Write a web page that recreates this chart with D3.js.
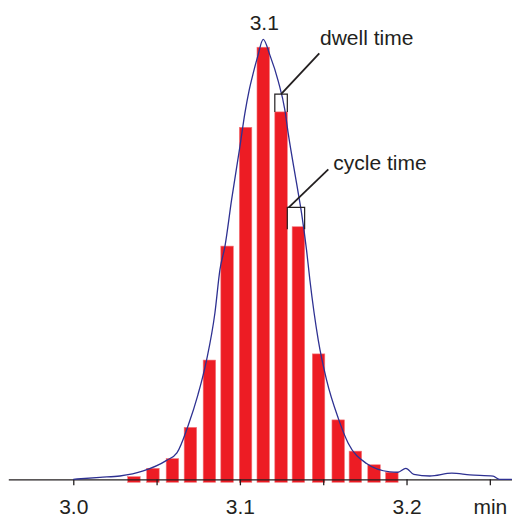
<!DOCTYPE html>
<html>
<head>
<meta charset="utf-8">
<script src="https://cdn.jsdelivr.net/npm/d3@7"></script>
<style>
  body { margin: 0; background: #fff; }
  text { font-family: "Liberation Sans", Arial, sans-serif; fill: #231f20; }
</style>
</head>
<body>
<svg id="chart" width="512" height="517"></svg>
<script>
// acquisition points (retention time in min, intensity %)
let scanTimes = [3.0364, 3.0478, 3.0595, 3.0703, 3.0817, 3.0923, 3.1034, 3.1140,
                 3.1247, 3.1351, 3.1472, 3.1590, 3.1693, 3.1805, 3.1912];
let scanValues = [0.6, 2.5, 4.7, 11.8, 27.1, 53.0, 80.0, 98.2,
                  83.5, 57.4, 28.5, 13.5, 6.4, 3.3, 1.6];

// true peak profile
let peakTimes = [3.000, 3.016, 3.028, 3.042, 3.056, 3.0622, 3.069, 3.0748, 3.080, 3.085,
                 3.088, 3.091, 3.095, 3.100, 3.103, 3.1056, 3.108, 3.1106, 3.114, 3.118,
                 3.123, 3.127, 3.129, 3.134, 3.137, 3.140, 3.142, 3.147, 3.152, 3.159,
                 3.165, 3.176, 3.190, 3.1948, 3.1996, 3.2044, 3.214, 3.2272, 3.238, 3.252,
                 3.2557, 3.2632];
let peakValues = [0, 0.45, 0.75, 1.9, 4.3, 6.0, 12.3, 19.2, 27.1, 37.8,
                  47.6, 52.9, 63.5, 75.6, 83.2, 88.5, 92.3, 96.0, 100, 96.4,
                  90.5, 83.9, 78.6, 67.3, 60.5, 52.1, 45.3, 31.7, 22.6, 13.9,
                  8.2, 3.6, 1.7, 1.6, 2.5, 1.1, 0.75, 1.4, 1.0, 0.7,
                  0, 0];

let tickValues = [3.0, 3.05, 3.1, 3.15, 3.2, 3.25];
let tickLabels = ['3.0', '', '3.1', '', '3.2', 'min'];
let apexLabel = '3.1';

let barWidth = 0.0075; // min

let svg = d3.select('#chart');

let x = d3.scaleLinear().domain([2.961, 3.2633]).range([8.3, 512]);
let y = d3.scaleLinear().domain([0, 100]).range([479.3, 39.3]);

// bars
svg.append('g')
  .selectAll('rect')
  .data(scanTimes)
  .enter()
  .append('rect')
  .attr('x', (t) => x(t - barWidth / 2))
  .attr('width', (t) => x(t + barWidth / 2) - x(t - barWidth / 2))
  .attr('y', (t, i) => y(scanValues[i]))
  .attr('height', (t, i) => y(0) + 3 - y(scanValues[i]))
  .attr('fill', '#ed1c24')
  .attr('stroke', '#f3787d')
  .attr('stroke-width', 0.6);

// axis
let axis = d3.axisBottom(x)
  .tickValues(tickValues)
  .tickFormat((d, i) => tickLabels[i])
  .tickSize(6)
  .tickSizeOuter(0)
  .tickPadding(14);

let gAxis = svg.append('g')
  .attr('transform', 'translate(0,' + y(0) + ')')
  .call(axis);
gAxis.select('.domain').attr('stroke', '#231f20').attr('stroke-width', 1.3);
gAxis.selectAll('.tick line').attr('stroke', '#231f20').attr('stroke-width', 1.3);
gAxis.selectAll('.tick text')
  .attr('font-size', 21)
  .attr('font-family', '"Liberation Sans", Arial, sans-serif')
  .attr('fill', '#231f20');

// peak curve
let line = d3.line()
  .x((t) => x(t))
  .y((t, i) => y(peakValues[i]))
  .curve(d3.curveMonotoneX);

svg.append('path')
  .datum(peakTimes)
  .attr('d', line)
  .attr('fill', 'none')
  .attr('stroke', '#2e3192')
  .attr('stroke-width', 1.3);

// apex label
let apexIndex = peakValues.indexOf(d3.max(peakValues));
svg.append('text')
  .attr('x', x(peakTimes[apexIndex]) + 1)
  .attr('y', y(peakValues[apexIndex]) - 9)
  .attr('text-anchor', 'middle')
  .attr('font-size', 21)
  .text(apexLabel);

// dwell time bracket on scan 9
let dwellBar = 8;
let dl = x(scanTimes[dwellBar] - barWidth / 2);
let dr = x(scanTimes[dwellBar] + barWidth / 2);
let dTop = y(scanValues[dwellBar]) - 17.7;
let dBottom = y(scanValues[dwellBar]);

svg.append('path')
  .attr('d', 'M' + dl + ',' + dBottom + 'V' + dTop + 'H' + dr + 'V' + dBottom)
  .attr('fill', 'none')
  .attr('stroke', '#231f20')
  .attr('stroke-width', 1.2);

svg.append('line')
  .attr('x1', (dl + dr) / 2).attr('y1', dTop)
  .attr('x2', 319.3).attr('y2', 53.3)
  .attr('stroke', '#231f20')
  .attr('stroke-width', 1.8);

svg.append('text')
  .attr('x', 320)
  .attr('y', 45)
  .attr('font-size', 21)
  .text('dwell time');

// cycle time bracket between scan 9 and scan 10
let cl = dr;
let cr = x(scanTimes[dwellBar + 1] + barWidth / 2);
let cTop = y(scanValues[dwellBar + 1]) - 19.4;
let cBottom = y(scanValues[dwellBar + 1]) + 2.5;

svg.append('path')
  .attr('d', 'M' + cl + ',' + cBottom + 'V' + cTop + 'H' + cr + 'V' + cBottom)
  .attr('fill', 'none')
  .attr('stroke', '#231f20')
  .attr('stroke-width', 1.2);

svg.append('line')
  .attr('x1', cl + 1.5).attr('y1', cTop)
  .attr('x2', 328.3).attr('y2', 169.3)
  .attr('stroke', '#231f20')
  .attr('stroke-width', 1.8);

svg.append('text')
  .attr('x', 333.3)
  .attr('y', 170)
  .attr('font-size', 21)
  .text('cycle time');
</script>
</body>
</html>
